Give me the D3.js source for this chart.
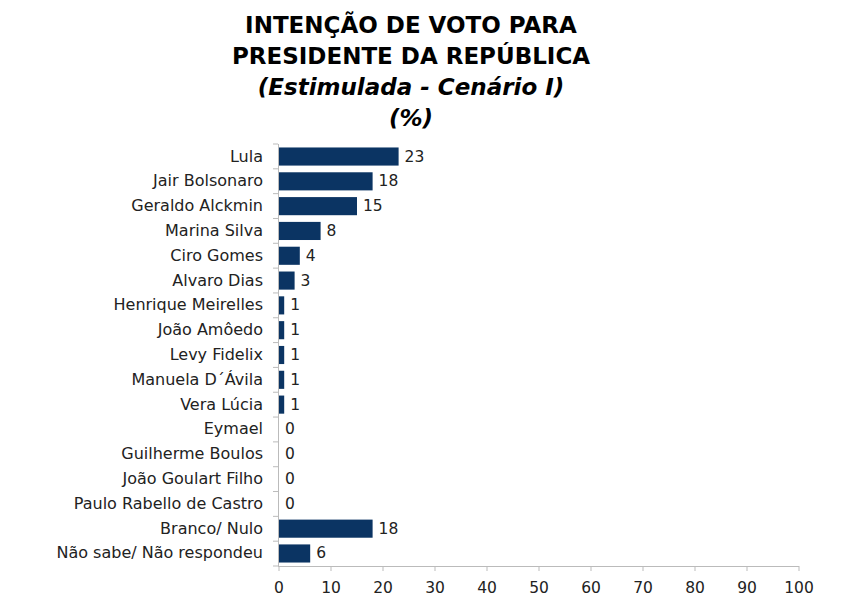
<!DOCTYPE html><html><head><meta charset="utf-8"><script src="https://cdn.jsdelivr.net/npm/d3@7"></script>
<style>body{margin:0;background:#fff}text{font-family:"DejaVu Sans",Verdana,sans-serif}</style></head><body><svg id="c" width="847" height="606"></svg><script>
const categories=["Lula","Jair Bolsonaro","Geraldo Alckmin","Marina Silva","Ciro Gomes","Alvaro Dias","Henrique Meirelles","João Amôedo","Levy Fidelix","Manuela D´Ávila","Vera Lúcia","Eymael","Guilherme Boulos","João Goulart Filho","Paulo Rabello de Castro","Branco/ Nulo","Não sabe/ Não respondeu"];
const values=[23,18,15,8,4,3,1,1,1,1,1,0,0,0,0,18,6];
const ticks=[0,10,20,30,40,50,60,70,80,90,100];
const svg=d3.select("#c");
const x=d3.scaleLinear().domain([0,100]).range([279,799]);
const y=d3.scaleBand().domain(categories).range([144,566]).paddingInner(0.27).paddingOuter(0.14);
const t=["INTENÇÃO DE VOTO PARA","PRESIDENTE DA REPÚBLICA","(Estimulada - Cenário I)","(%)"];
t.forEach((s,i)=>svg.append("text").attr("x",411).attr("y",33+i*31).attr("text-anchor","middle").attr("font-size",23).attr("font-weight","bold").attr("font-style",i>=2?"italic":"normal").attr("fill","#000").text(s));
const step=(566-144)/categories.length;
svg.append("line").attr("x1",278.5).attr("x2",278.5).attr("y1",144).attr("y2",566).attr("stroke","#bbb");
for(let i=0;i<=categories.length;i++)svg.append("line").attr("x1",273).attr("x2",278).attr("y1",144+i*step).attr("y2",144+i*step).attr("stroke","#bbb");
svg.append("line").attr("x1",278).attr("x2",799).attr("y1",566.5).attr("y2",566.5).attr("stroke","#bbb");
ticks.forEach(v=>{svg.append("line").attr("x1",x(v)).attr("x2",x(v)).attr("y1",566).attr("y2",571).attr("stroke","#bbb");
svg.append("text").attr("x",x(v)).attr("y",593).attr("text-anchor","middle").attr("font-size",15.5).attr("fill","#222").text(v);});
svg.selectAll("rect").data(values).join("rect").attr("x",x(0)).attr("y",(d,i)=>y(categories[i])).attr("width",d=>x(d)-x(0)).attr("height",y.bandwidth()).attr("fill","#0b3463");
svg.selectAll(".v").data(values).join("text").attr("x",d=>x(d)+6).attr("y",(d,i)=>y(categories[i])+y.bandwidth()/2+5).attr("font-size",15.5).attr("fill","#222").text(d=>d);
svg.selectAll(".c").data(categories).join("text").attr("x",263).attr("y",d=>y(d)+y.bandwidth()/2+5).attr("text-anchor","end").attr("font-size",16).attr("fill","#222").text(d=>d);
</script></body></html>
